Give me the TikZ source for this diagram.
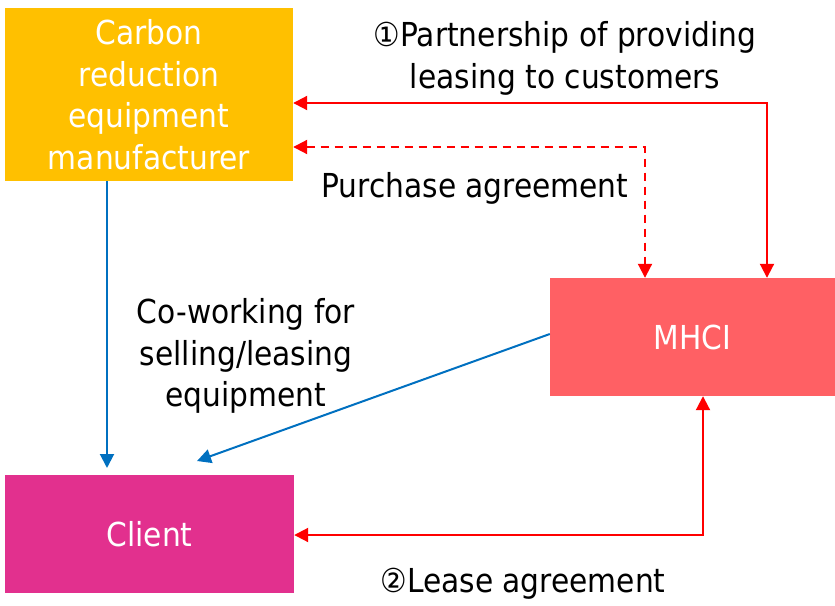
\documentclass[tikz,border=0pt]{standalone}
\usepackage{fontspec}
\setmainfont{DejaVu Sans Condensed}
\usetikzlibrary{arrows.meta}
\definecolor{cOrange}{HTML}{FFC000}
\definecolor{cMhci}{HTML}{FF6064}
\definecolor{cClient}{HTML}{E2308E}
\definecolor{cBlue}{HTML}{0070C0}
\definecolor{cRed}{HTML}{FF0000}
\begin{document}
\begin{tikzpicture}[x=1pt,y=-1pt,
  box/.style={draw=none,inner sep=0pt,text=white,align=center,font=\fontsize{33}{41.5}\selectfont},
  lbl/.style={inner sep=0pt,align=center,font=\fontsize{33}{41.5}\selectfont},
  redline/.style={draw=cRed,line width=2pt,{Triangle[length=14pt,width=14pt]}-{Triangle[length=14pt,width=14pt]}},
  blueline/.style={draw=cBlue,line width=2pt,-{Triangle[length=14pt,width=14pt]}}]
\useasboundingbox (0,0) rectangle (835,605);
\node[box,fill=cOrange,minimum width=288pt,minimum height=173pt] (man) at (149,94.5)
  {Carbon\\reduction\\equipment\\manufacturer};
\node[box,fill=cMhci,minimum width=285pt,minimum height=118pt] (mhci) at (692.5,337) {MHCI};
\node[box,fill=cClient,minimum width=289pt,minimum height=118pt] (cli) at (149.5,534) {Client};
\coordinate (r1) at (767,103);
\coordinate (r2) at (645,147);
\coordinate (r3) at (703,535);
\draw[redline] (man.east |- r1) -- (r1) -- (r1 |- mhci.north);
\draw[redline,dash pattern=on 8pt off 6pt] (man.east |- r2) -- (r2) -- (r2 |- mhci.north);
\draw[redline] (cli.east |- r3) -- (r3) -- (r3 |- mhci.south);
\draw[blueline] (107,181) -- (107,468);
\coordinate (b1) at (197,461);
\draw[blueline] (mhci.west |- 0,334) -- (b1);
\node[lbl] (t1) at (565,58.5) {①Partnership of providing\\leasing to customers};
\node[lbl] (t2) at (475,188) {Purchase agreement};
\node[lbl] (t3) at (246,356) {Co-working for\\selling/leasing\\equipment};
\node[lbl] (t4) at (523,584) {②Lease agreement};
\end{tikzpicture}
\end{document}
